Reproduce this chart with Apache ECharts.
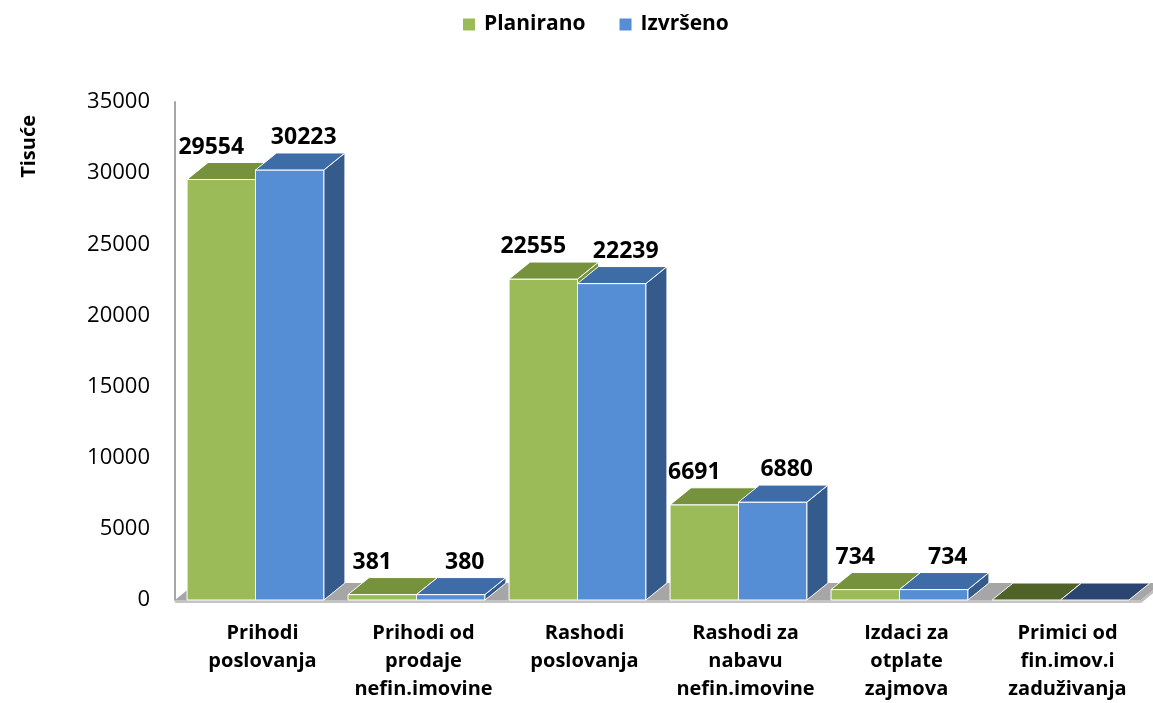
<!DOCTYPE html>
<html>
<head>
<meta charset="utf-8">
<script src="https://cdn.jsdelivr.net/npm/echarts@6/dist/echarts.min.js"></script>
<style>
html, body { margin: 0; padding: 0; background: #fff; }
#chart { width: 1153px; height: 703px; }
</style>
</head>
<body>
<div id="chart"></div>
<script>
// podaci
const categories = ['Prihodi\nposlovanja', 'Prihodi od\nprodaje\nnefin.imovine', 'Rashodi\nposlovanja',
	'Rashodi za\nnabavu\nnefin.imovine', 'Izdaci za\notplate\nzajmova', 'Primici od\nfin.imov.i\nzaduživanja'];
const planirano = [29554, 381, 22555, 6691, 734, 0];
const izvrseno = [30223, 380, 22239, 6880, 734, 0];
const yMin = 0;
const yMax = 35000;
const yStep = 5000;

let chart = echarts.init(document.getElementById('chart'));

const dx = 21, dy = -17;
const fontName = '"Open Sans", sans-serif';

const green = { front: '#9BBB59', top: '#76923C', side: '#76923C', flat: '#4F6228' };
const blue = { front: '#558ED5', top: '#3E6CA6', side: '#345B8B', flat: '#2A4670' };

function bar3d(side, colors, labelShift) {
	return function(params, api) {
		let i = api.value(0), v = api.value(1);
		let base = api.coord([i, 0]);
		let top = api.coord([i, v]);
		let band = api.size([1, 0])[0];
		let w = band * 0.425;
		let x0 = side < 0 ? base[0] - w : base[0];
		let x1 = x0 + w;
		let yb = base[1], yt = top[1];
		let st = { stroke: '#fff', lineWidth: 1 };
		let kids = [];
		if (v > 0) {
			kids.push({ type: 'polygon', shape: { points: [[x0, yb], [x1, yb], [x1, yt], [x0, yt]] },
				style: Object.assign({ fill: colors.front }, st) });
			kids.push({ type: 'polygon', shape: { points: [[x1, yb], [x1 + dx, yb + dy], [x1 + dx, yt + dy], [x1, yt]] },
				style: Object.assign({ fill: colors.side }, st) });
		}
		kids.push({ type: 'polygon', shape: { points: [[x0, yt], [x1, yt], [x1 + dx, yt + dy], [x0 + dx, yt + dy]] },
			style: Object.assign({ fill: v > 0 ? colors.top : colors.flat }, st) });
		if (v > 0) {
			kids.push({ type: 'text', style: {
				text: String(v), x: (x0 + x1) / 2 + labelShift, y: yt + dy - 4,
				align: 'center', verticalAlign: 'bottom',
				font: 'bold 23px ' + fontName, fill: '#000'
			} });
		}
		return { type: 'group', children: kids };
	};
}

function floor(params, api) {
	let cs = params.coordSys;
	let xl = cs.x, xr = cs.x + cs.width, yb = cs.y + cs.height;
	return { type: 'group', children: [
		{ type: 'polygon', shape: { points: [[xl, yb], [xr, yb], [xr + dx, yb + dy], [xl + dx, yb + dy]] },
			style: { fill: '#A6A6A6' } },
		{ type: 'rect', shape: { x: xl, y: yb, width: xr - xl, height: 3 }, style: { fill: '#C4C4C4' } },
		{ type: 'polygon', shape: { points: [[xr, yb], [xr + dx, yb + dy], [xr + dx, yb + dy + 3], [xr, yb + 3]] },
			style: { fill: '#BDBDBD' } }
	] };
}

option = {
	backgroundColor: '#fff',
	animation: false,
	legend: {
		data: [
			{ name: 'Planirano', itemStyle: { color: green.front } },
			{ name: 'Izvršeno', itemStyle: { color: blue.front } }
		],
		icon: 'rect',
		itemWidth: 12,
		itemHeight: 12,
		itemGap: 34,
		left: 458,
		top: 9,
		textStyle: { fontFamily: fontName, fontWeight: 'bold', fontSize: 21, color: '#000', padding: [0, 0, 0, 4] }
	},
	grid: {
		left: 175,
		right: 12,
		top: 102,
		bottom: 101
	},
	graphic: [{
		type: 'text',
		left: 19,
		top: 115,
		rotation: Math.PI / 2,
		style: { text: 'Tisuće', font: 'bold 20px ' + fontName, fill: '#000' }
	}],
	xAxis: {
		type: 'category',
		data: categories,
		axisLine: { show: false },
		axisTick: { show: false },
		axisLabel: {
			interval: 0,
			margin: 19,
			color: '#000',
			fontFamily: fontName,
			fontWeight: 'bold',
			fontSize: 20,
			lineHeight: 28,
			padding: [0, 0, 0, 14]
		}
	},
	yAxis: {
		type: 'value',
		min: yMin,
		max: yMax,
		interval: yStep,
		axisLine: { show: true, lineStyle: { color: '#A6A6A6', width: 2 } },
		axisTick: { show: false },
		splitLine: { show: false },
		axisLabel: {
			margin: 25, color: '#000', fontFamily: fontName, fontSize: 22,
			formatter: function(v) { return String(v); }
		}
	},
	series: [
		{
			type: 'custom',
			name: 'floor',
			renderItem: floor,
			data: [[0, 0]],
			silent: true,
			z: 1
		},
		{
			type: 'custom',
			name: 'Planirano',
			renderItem: bar3d(-1, green, -10),
			data: planirano.map((v, i) => [i, v]),
			itemStyle: { color: green.front },
			z: 2
		},
		{
			type: 'custom',
			name: 'Izvršeno',
			renderItem: bar3d(1, blue, 14),
			data: izvrseno.map((v, i) => [i, v]),
			itemStyle: { color: blue.front },
			z: 3
		}
	]
};

chart.setOption(option);

window.onresize = function() {
	chart.resize();
}
</script>
</body>
</html>
